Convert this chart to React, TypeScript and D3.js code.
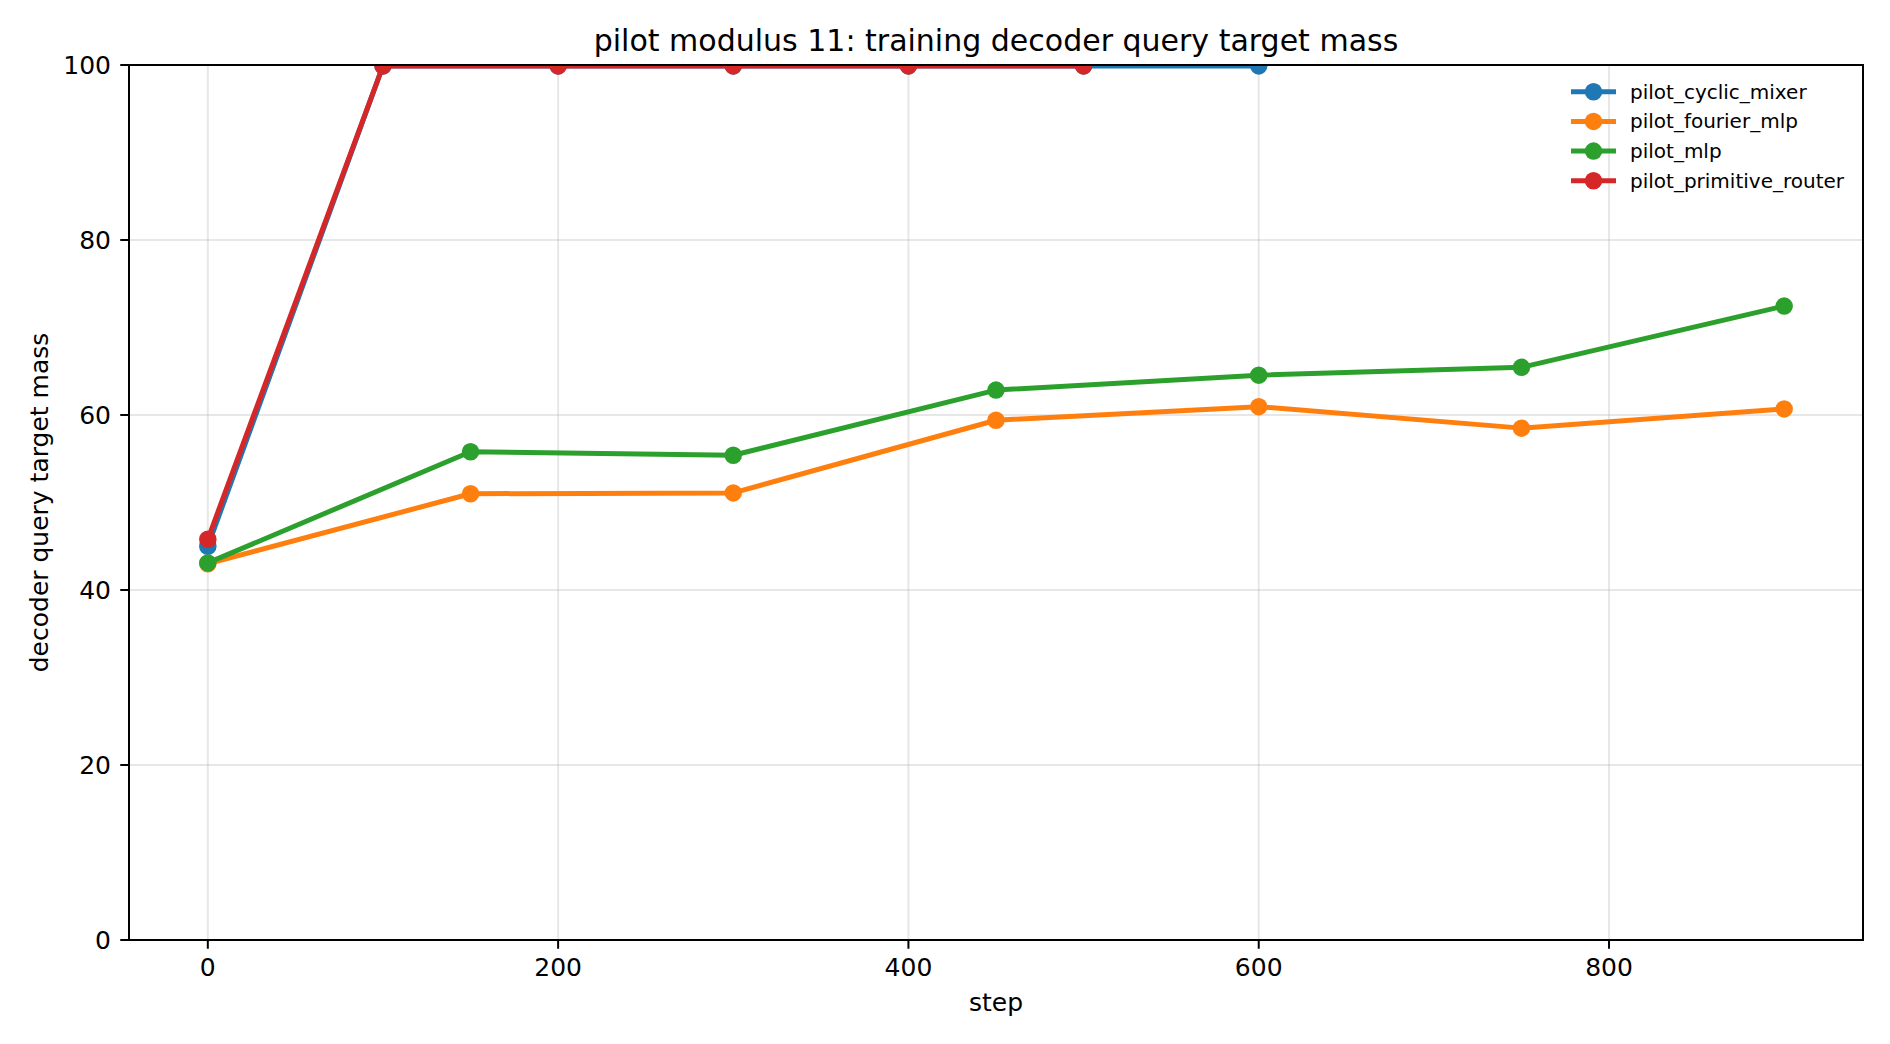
import { useEffect } from 'react';
import * as d3 from 'd3';

const W = 1890;
const H = 1044;

const seriesNames = ['pilot_cyclic_mixer', 'pilot_fourier_mlp', 'pilot_mlp', 'pilot_primitive_router'];
const seriesColors = ['#1f77b4', '#ff7f0e', '#2ca02c', '#d62728'];

const cyclicSteps = [0, 100, 200, 300, 400, 500, 600];
const cyclicValues = [45.0, 99.9, 99.9, 99.9, 99.9, 99.9, 99.9];

const fourierSteps = [0, 150, 300, 450, 600, 750, 900];
const fourierValues = [43.0, 51.0, 51.1, 59.4, 60.95, 58.5, 60.7];

const mlpSteps = [0, 150, 300, 450, 600, 750, 900];
const mlpValues = [43.1, 55.8, 55.4, 62.85, 64.55, 65.45, 72.45];

const routerSteps = [0, 100, 200, 300, 400, 500];
const routerValues = [45.8, 99.9, 99.9, 99.9, 99.9, 99.9];

const xTicks = [0, 200, 400, 600, 800];
const yTicks = [0, 20, 40, 60, 80, 100];

const margin = { top: 65, right: 27, bottom: 104, left: 129 };

const App = () => {
  useEffect(() => {
    document.body.style.margin = '0';
  }, []);

  const innerW = W - margin.left - margin.right;
  const innerH = H - margin.top - margin.bottom;

  const x = d3.scaleLinear().domain([-45, 945]).range([0, innerW]);
  const y = d3.scaleLinear().domain([0, 100]).range([innerH, 0]);

  const series = [
    { steps: cyclicSteps, values: cyclicValues },
    { steps: fourierSteps, values: fourierValues },
    { steps: mlpSteps, values: mlpValues },
    { steps: routerSteps, values: routerValues },
  ];

  const line = d3.line<[number, number]>()
    .x(d => x(d[0]))
    .y(d => y(d[1]));

  const font = 'DejaVu Sans, sans-serif';

  return (
    <svg width={W} height={H} style={{ display: 'block', background: '#fff' }} fontFamily={font}>
      <defs>
        <clipPath id="plot-clip">
          <rect x={0} y={0} width={innerW} height={innerH} />
        </clipPath>
      </defs>
      <text x={margin.left + innerW / 2} y={51} textAnchor="middle" fontSize={30} fill="#000">
        pilot modulus 11: training decoder query target mass
      </text>
      <g transform={`translate(${margin.left},${margin.top})`}>
        {/* grid */}
        {xTicks.map(t => (
          <line key={`gx${t}`} x1={x(t)} x2={x(t)} y1={0} y2={innerH} stroke="#b0b0b0" strokeOpacity={0.3} strokeWidth={2} />
        ))}
        {yTicks.map(t => (
          <line key={`gy${t}`} x1={0} x2={innerW} y1={y(t)} y2={y(t)} stroke="#b0b0b0" strokeOpacity={0.3} strokeWidth={2} />
        ))}

        {/* series */}
        <g clipPath="url(#plot-clip)">
          {series.map((s, i) => {
            const pts = s.steps.map((st, j) => [st, s.values[j]] as [number, number]);
            return (
              <g key={seriesNames[i]}>
                <path d={line(pts) || ''} fill="none" stroke={seriesColors[i]} strokeWidth={5} strokeLinejoin="round" strokeLinecap="square" />
                {pts.map((p, j) => (
                  <circle key={j} cx={x(p[0])} cy={y(p[1])} r={8.75} fill={seriesColors[i]} />
                ))}
              </g>
            );
          })}
        </g>

        {/* spines */}
        <rect x={0} y={0} width={innerW} height={innerH} fill="none" stroke="#000" strokeWidth={2} />

        {/* x axis ticks */}
        {xTicks.map(t => (
          <g key={`tx${t}`} transform={`translate(${x(t)},${innerH})`}>
            <line y1={0} y2={8.75} stroke="#000" strokeWidth={2} />
            <text y={36} textAnchor="middle" fontSize={25} fill="#000">{t}</text>
          </g>
        ))}
        {/* y axis ticks */}
        {yTicks.map(t => (
          <g key={`ty${t}`} transform={`translate(0,${y(t)})`}>
            <line x1={-8.75} x2={0} stroke="#000" strokeWidth={2} />
            <text x={-18} dy="0.36em" textAnchor="end" fontSize={25} fill="#000">{t}</text>
          </g>
        ))}

        {/* axis labels */}
        <text x={innerW / 2} y={innerH + 71} textAnchor="middle" fontSize={25} fill="#000">step</text>
        <text transform={`translate(${48 - margin.left},${innerH / 2}) rotate(-90)`} textAnchor="middle" fontSize={25} fill="#000">
          decoder query target mass
        </text>

        {/* legend */}
        {seriesNames.map((name, i) => {
          const ly = 91.7 - margin.top + i * 29.7;
          const lx = 1571 - margin.left;
          return (
            <g key={`lg${name}`} transform={`translate(${lx},${ly})`}>
              <line x1={0} x2={45} y1={0} y2={0} stroke={seriesColors[i]} strokeWidth={5} />
              <circle cx={22.5} cy={0} r={8.75} fill={seriesColors[i]} />
              <text x={59} dy="0.35em" fontSize={20} fill="#000">{name}</text>
            </g>
          );
        })}
      </g>
    </svg>
  );
};

export default App;
